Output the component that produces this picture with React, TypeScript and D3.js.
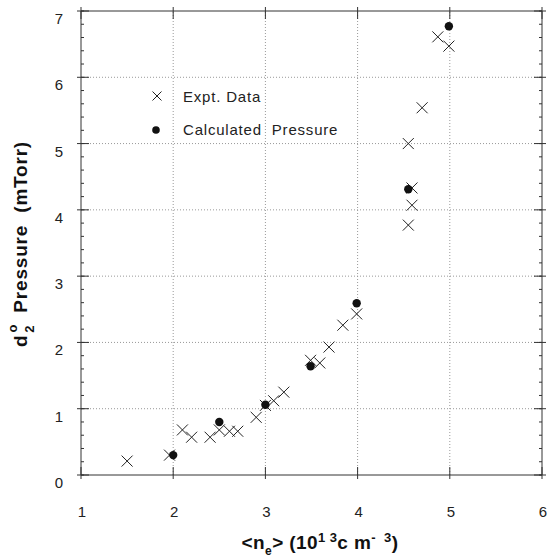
import React from 'react';
import * as d3 from 'd3';

// experimental points (density in 1e13 cm^-3, pressure in mTorr)
const exptDensity = [1.5, 1.96, 2.1, 2.2, 2.4, 2.5, 2.61, 2.7, 2.9, 3.0, 3.09, 3.2, 3.49, 3.59, 3.69, 3.84, 3.99, 4.55, 4.59, 4.59, 4.55, 4.7, 4.87, 4.99];
const exptPressure = [0.21, 0.3, 0.68, 0.57, 0.57, 0.68, 0.66, 0.66, 0.87, 1.05, 1.12, 1.25, 1.73, 1.69, 1.93, 2.26, 2.43, 3.77, 4.07, 4.33, 5.0, 5.54, 6.61, 6.47];

const calcDensity = [2.0, 2.5, 3.0, 3.49, 3.99, 4.55, 4.99];
const calcPressure = [0.3, 0.8, 1.06, 1.64, 2.59, 4.31, 6.77];

const xTicks = [1, 2, 3, 4, 5, 6];
const yTicks = [0, 1, 2, 3, 4, 5, 6, 7];

const W = 550;
const H = 558;
const font = '"Liberation Sans", Arial, sans-serif';

export default function App() {
  const x = d3.scaleLinear().domain([1, 6]).range([81, 542]);
  const y = d3.scaleLinear().domain([0, 7]).range([475, 11]);
  const [x0, x1] = x.range();
  const [y0, y1] = y.range();
  const minorY = d3.range(0, 7.001, 0.2);

  const expt = exptDensity.map((d, i) => [x(d), y(exptPressure[i])]);
  const calc = calcDensity.map((d, i) => [x(d), y(calcPressure[i])]);

  const cross = (cx: number, cy: number, k: number, s = 5.5) => (
    <path
      key={k}
      d={`M${cx - s},${cy - s}L${cx + s},${cy + s}M${cx - s},${cy + s}L${cx + s},${cy - s}`}
      stroke="#222"
      strokeWidth={1}
      fill="none"
    />
  );

  return (
    <svg width={W} height={H} style={{ position: 'absolute', left: 0, top: 0, background: '#fff' }}>
      {/* grid */}
      <g stroke="#999" strokeWidth={1} strokeDasharray="1,2">
        {xTicks.slice(1, -1).map(t => (
          <line key={'gx' + t} x1={x(t)} x2={x(t)} y1={y0} y2={y1} />
        ))}
        {yTicks.slice(1, -1).map(t => (
          <line key={'gy' + t} x1={x0} x2={x1} y1={y(t)} y2={y(t)} />
        ))}
      </g>
      {/* frame */}
      <g stroke="#333" strokeWidth={1} fill="none">
        <line x1={x0} x2={x1} y1={y0} y2={y0} />
        <line x1={x0} x2={x1} y1={y1} y2={y1} />
        <line x1={x0} x2={x0} y1={y0} y2={y1} />
        <line x1={x1} x2={x1} y1={y0} y2={y1} />
        {minorY.map((t, i) => (
          <g key={'my' + i}>
            <line x1={x0} x2={x0 + 3} y1={y(t)} y2={y(t)} />
            <line x1={x1 - 3} x2={x1} y1={y(t)} y2={y(t)} />
          </g>
        ))}
        {yTicks.map(t => (
          <g key={'ty' + t}>
            <line x1={x0 - 4} x2={x0 + 8} y1={y(t)} y2={y(t)} />
            <line x1={x1 - 8} x2={x1 + 4} y1={y(t)} y2={y(t)} />
          </g>
        ))}
        {xTicks.map(t => (
          <g key={'tx' + t}>
            <line x1={x(t)} x2={x(t)} y1={y0 + 4} y2={y0 - 8} />
            <line x1={x(t)} x2={x(t)} y1={y1 - 4} y2={y1 + 8} />
          </g>
        ))}
      </g>
      {/* tick labels */}
      <g fontFamily={font} fontSize={15} fill="#222">
        {xTicks.map(t => (
          <text key={'lx' + t} x={x(t) + 1} y={y0 + 42} textAnchor="middle">{t}</text>
        ))}
        {yTicks.map(t => (
          <text key={'ly' + t} x={x0 - 18} y={y(t) + 13} textAnchor="end">{t}</text>
        ))}
      </g>
      {/* data */}
      <g>{expt.map(([cx, cy], i) => cross(cx, cy, i))}</g>
      <g fill="#111">
        {calc.map(([cx, cy], i) => (
          <circle key={i} cx={cx} cy={cy} r={4.2} />
        ))}
      </g>
      {/* legend */}
      {cross(157, 96, 999, 4.5)}
      <circle cx={156} cy={130} r={3.8} fill="#111" />
      <g fontFamily={font} fontSize={15} fill="#222" letterSpacing={0.8}>
        <text x={183} y={102}>Expt. Data</text>
        <text x={183} y={135} style={{ whiteSpace: 'pre' }}>Calculated  Pressure</text>
      </g>
      {/* axis titles */}
      <text x={320} y={549} textAnchor="middle" fontFamily={font} fontSize={19} fontWeight="bold" fill="#111" letterSpacing={0.4} style={{ whiteSpace: 'pre' }}>
        {'<n'}
        <tspan dy={6} fontSize={12}>e</tspan>
        <tspan dy={-6}>{'> (10'}</tspan>
        <tspan dy={-7} fontSize={13}>1 3</tspan>
        <tspan dy={7}>c m</tspan>
        <tspan dy={-7} fontSize={13}>{'-  3'}</tspan>
        <tspan dy={7}>)</tspan>
      </text>
      <g transform="translate(27,244) rotate(-90)">
        <text x={0} y={0} textAnchor="middle" fontFamily={font} fontSize={19} fontWeight="bold" fill="#111" letterSpacing={0.8} style={{ whiteSpace: 'pre' }}>
          {'d'}
          <tspan dx={2} dy={-10} fontSize={13}>o</tspan>
          <tspan dx={-9} dy={17} fontSize={13}>2</tspan>
          <tspan dy={-7}>{'  Pressure  (mTorr)'}</tspan>
        </text>
      </g>
    </svg>
  );
}
